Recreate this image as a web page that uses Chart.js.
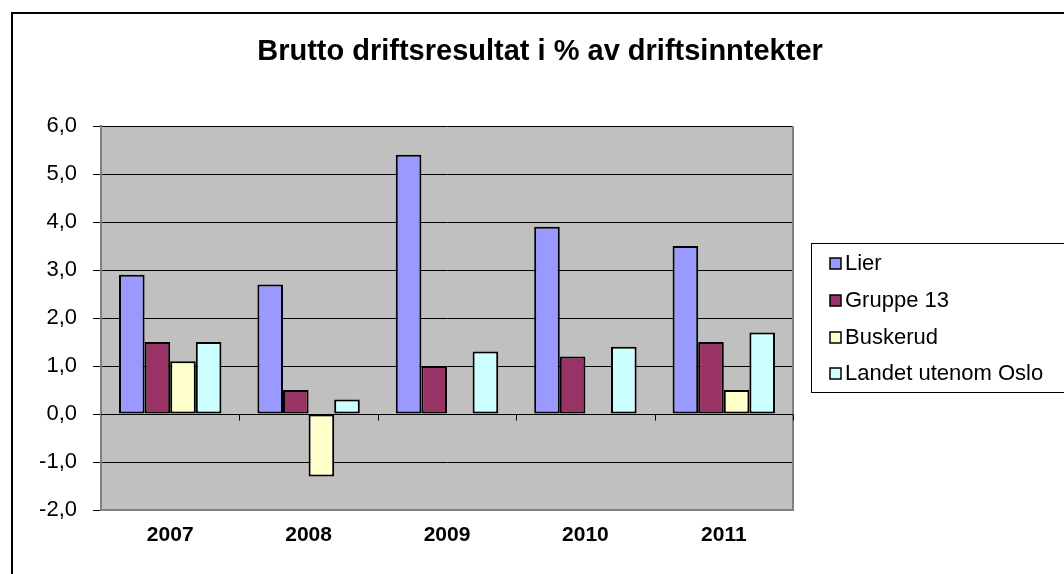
<!DOCTYPE html>
<html>
<head>
<meta charset="utf-8">
<script src="https://cdn.jsdelivr.net/npm/chart.js@4/dist/chart.umd.min.js"></script>
<style>
  body { margin: 0; background: #fff; }
  #wrap { width: 1064px; height: 574px; position: relative; }
</style>
</head>
<body>
<div id="wrap"><canvas id="myChart" width="1064" height="574"></canvas></div>
<script>
var title = "Brutto driftsresultat i % av driftsinntekter";
var years = ["2007", "2008", "2009", "2010", "2011"];
var lier = [2.9, 2.7, 5.4, 3.9, 3.5];
var gruppe13 = [1.5, 0.5, 1.0, 1.2, 1.5];
var buskerud = [1.1, -1.3, null, null, 0.5];
var landet = [1.5, 0.3, 1.3, 1.4, 1.7];
var seriesNames = ["Lier", "Gruppe 13", "Buskerud", "Landet utenom Oslo"];
var colors = ["#9999FF", "#993366", "#FFFFCC", "#CCFFFF"];
var yTicks = [-2, -1, 0, 1, 2, 3, 4, 5, 6];

var FONT = "'Liberation Sans', Arial, sans-serif";

// grey plot area, frame, title and the zero-line ticks
var excelLook = {
  id: 'excelLook',
  beforeDraw: function(chart){
    var ctx = chart.ctx, a = chart.chartArea;
    ctx.save();
    ctx.fillStyle = "#C0C0C0";
    ctx.fillRect(a.left, a.top, a.right - a.left, a.bottom - a.top);
    ctx.restore();
  },
  afterDatasetsDraw: function(chart){
    var ctx = chart.ctx, a = chart.chartArea;
    var xs = chart.scales.x, ys = chart.scales.y;
    ctx.save();
    // right / bottom plot border
    ctx.strokeStyle = "#808080";
    ctx.lineWidth = 2;
    ctx.beginPath();
    ctx.moveTo(a.right, a.top);
    ctx.lineTo(a.right, a.bottom);
    ctx.lineTo(a.left, a.bottom);
    ctx.stroke();
    // zero line ticks between categories
    var y0 = Math.round(ys.getPixelForValue(0)) + 0.5;
    ctx.strokeStyle = "#000";
    ctx.lineWidth = 1;
    ctx.beginPath();
    ctx.moveTo(a.left, y0);
    ctx.lineTo(a.right, y0);
    for (var i = 1; i <= years.length; i++) {
      var px = Math.round(xs.getPixelForValue(i - 0.5)) + 0.5;
      ctx.moveTo(px, y0);
      ctx.lineTo(px, y0 + 6);
    }
    ctx.stroke();
    ctx.restore();
  },
  afterDraw: function(chart){
    var ctx = chart.ctx;
    ctx.save();
    // outer frame
    ctx.strokeStyle = "#000";
    ctx.lineWidth = 2;
    ctx.beginPath();
    ctx.moveTo(12, 574);
    ctx.lineTo(12, 13);
    ctx.lineTo(1064, 13);
    ctx.stroke();
    // title
    ctx.fillStyle = "#000";
    ctx.font = "bold 29px " + FONT;
    ctx.textAlign = "center";
    ctx.textBaseline = "middle";
    ctx.fillText(title, 540, 52);
    // legend
    ctx.lineWidth = 1;
    ctx.strokeRect(811.5, 243.5, 270, 149);
    var rows = [263, 300, 337, 373];
    ctx.font = "22px " + FONT;
    ctx.textAlign = "left";
    chart.data.datasets.forEach(function(ds, i){
      ctx.fillStyle = ds.backgroundColor;
      ctx.fillRect(830, rows[i] - 5, 11, 11);
      ctx.strokeStyle = "#000";
      ctx.lineWidth = 1.5;
      ctx.strokeRect(830, rows[i] - 5, 11, 11);
      ctx.fillStyle = "#000";
      ctx.fillText(ds.label, 845, rows[i] + 1);
    });
    ctx.restore();
  }
};

var seriesData = [lier, gruppe13, buskerud, landet];
var datasets = seriesNames.map(function(name, i){
  return {
    label: name,
    data: seriesData[i],
    backgroundColor: colors[i],
    borderColor: "#000",
    borderWidth: 2,
    borderSkipped: false,
    categoryPercentage: 0.74,
    barPercentage: 1.0
  };
});

var ctx = document.getElementById("myChart");
var chart = new Chart(ctx, {
  type: 'bar',
  data: { labels: years, datasets: datasets },
  options: {
    responsive: false,
    animation: false,
    layout: { padding: { top: 126, right: 271, left: 0, bottom: 0 } },
    plugins: { legend: { display: false }, title: { display: false }, tooltip: { enabled: false } },
    scales: {
      x: {
        grid: { display: false, drawTicks: false },
        border: { display: false },
        ticks: { color: "#000", font: { family: FONT, size: 21, weight: 'bold' }, padding: 13 },
        afterFit: function(s){ s.height = 64; }
      },
      y: {
        min: -2, max: 6,
        afterBuildTicks: function(s){ s.ticks = yTicks.map(function(v){ return { value: v }; }); },
        ticks: {
          color: "#000",
          font: { family: FONT, size: 22 },
          padding: 16,
          callback: function(v){ return v.toFixed(1).replace('.', ','); }
        },
        grid: { color: "#000", lineWidth: 1, tickLength: 8, tickColor: "#000" },
        border: { display: true, color: "#808080", width: 2 },
        afterFit: function(s){ s.width = 101; }
      }
    }
  },
  plugins: [excelLook]
});
</script>
</body>
</html>
